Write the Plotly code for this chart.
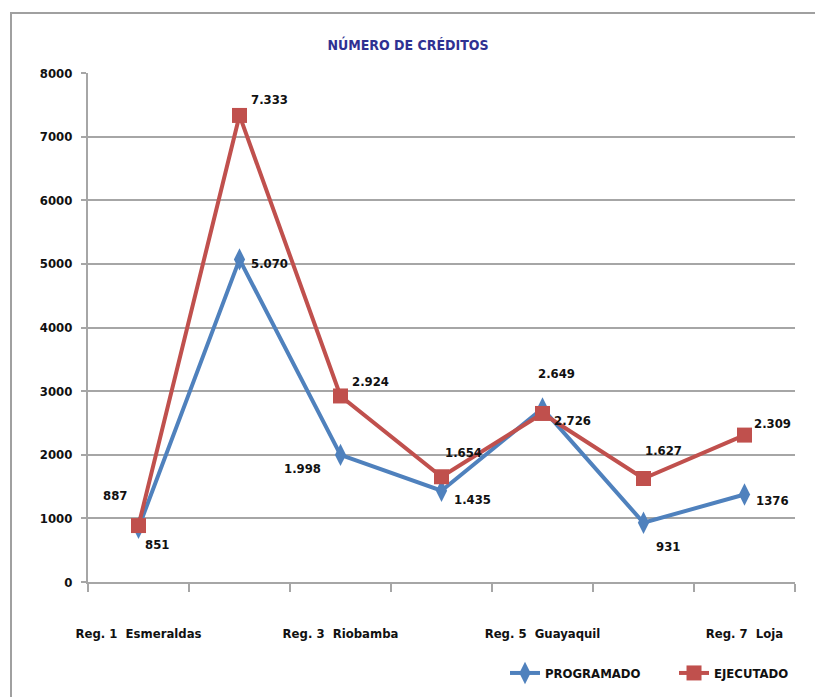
import plotly.graph_objects as go

categories = ["Reg. 1  Esmeraldas", "Reg. 2", "Reg. 3  Riobamba", "Reg. 4",
              "Reg. 5  Guayaquil", "Reg. 6", "Reg. 7  Loja"]
tick_labels = ["Reg. 1  Esmeraldas", "", "Reg. 3  Riobamba", "",
               "Reg. 5  Guayaquil", "", "Reg. 7  Loja"]
series_names = ["PROGRAMADO", "EJECUTADO"]
programado = [851, 5070, 1998, 1435, 2726, 931, 1376]
ejecutado = [887, 7333, 2924, 1654, 2649, 1627, 2309]
programado_labels = ["851", "5.070", "1.998", "1.435", "2.726", "931", "1376"]
ejecutado_labels = ["887", "7.333", "2.924", "1.654", "2.649", "1.627", "2.309"]

FONT = "DejaVu Sans Condensed, Liberation Sans Narrow, sans-serif"
BLUE = "#4F81BD"
RED = "#C0504D"
GRID = "#A6A6A6"
TXT = "#111111"

# page has an 8px body margin; positions below are reference pixels minus 8
OFF = 8
W, H = 823 - OFF, 697 - OFF
L, R, T, B = 88 - OFF, 795 - OFF, 73 - OFF, 582 - OFF

xs = list(range(len(categories)))
PAD = "\u00a0" * 7  # extra gap between legend entries

fig = go.Figure()
fig.add_trace(go.Scatter(
    x=xs, y=programado, name=series_names[0] + PAD, mode="lines+markers",
    line=dict(color=BLUE, width=4),
    marker=dict(symbol="diamond-tall", size=16, color=BLUE),
))
fig.add_trace(go.Scatter(
    x=xs, y=ejecutado, name=series_names[1], mode="lines+markers",
    line=dict(color=RED, width=4),
    marker=dict(symbol="square", size=15, color=RED),
))

# label offsets (pixels) relative to each point
blue_off = [(18, -17), (30, -4), (-38, -14), (31, -9), (30, -12), (24, -24), (28, -6)]
red_off = [(-24, 30), (30, 16), (30, 14), (22, 24), (14, 40), (20, 28), (28, 12)]

LBL = dict(family=FONT, size=13, color=TXT, weight="bold")
for i in xs:
    fig.add_annotation(x=i, y=programado[i], text=programado_labels[i],
                       showarrow=False, xshift=blue_off[i][0], yshift=blue_off[i][1],
                       font=LBL)
    fig.add_annotation(x=i, y=ejecutado[i], text=ejecutado_labels[i],
                       showarrow=False, xshift=red_off[i][0], yshift=red_off[i][1],
                       font=LBL)

def px_x(p):
    return (p - OFF - L) / (R - L)

def px_y(p):
    return (B - (p - OFF)) / (B - T)

# outer chart frame (top and left visible)
fig.add_shape(type="rect", xref="paper", yref="paper",
              x0=px_x(11), x1=px_x(900), y0=px_y(760), y1=px_y(13),
              line=dict(color="#A0A0A0", width=2), layer="below")

fig.update_layout(
    width=W, height=H,
    margin=dict(l=L, r=W - R, t=T, b=H - B, autoexpand=False),
    paper_bgcolor="white", plot_bgcolor="white",
    title=dict(text="NÚMERO DE CRÉDITOS", x=(408 - OFF) / W,
               xanchor="center", y=1 - (45 - OFF) / H, yanchor="middle",
               font=dict(family=FONT, size=14, color="#2E3192", weight="bold")),
    font=dict(family=FONT, size=13, color=TXT),
    showlegend=True,
    legend=dict(orientation="h", x=px_x(505), xanchor="left",
                y=px_y(673), yanchor="middle",
                font=dict(family=FONT, size=13, color=TXT, weight="bold"),
                itemwidth=30, bgcolor="rgba(0,0,0,0)"),
    xaxis=dict(
        range=[-0.5, 6.5], tickmode="array", tickvals=xs, ticktext=tick_labels,
        ticks="", showgrid=False, zeroline=False,
        showline=True, linecolor=GRID, linewidth=2,
        ticklabelstandoff=38,
        tickfont=dict(family=FONT, size=13, color=TXT, weight="bold"),
        minor=dict(ticks="outside", tick0=-0.5, dtick=1, ticklen=8,
                   tickcolor=GRID, tickwidth=2, showgrid=False),
    ),
    yaxis=dict(
        range=[0, 8000], dtick=1000, tickformat="d",
        showgrid=True, gridcolor=GRID, gridwidth=2,
        zeroline=False, showline=True, linecolor=GRID, linewidth=2,
        ticks="outside", ticklen=5, tickcolor=GRID, tickwidth=2,
        ticklabelstandoff=6,
        tickfont=dict(family=FONT, size=13, color=TXT, weight="bold"),
    ),
)

fig.write_html("out.html")
